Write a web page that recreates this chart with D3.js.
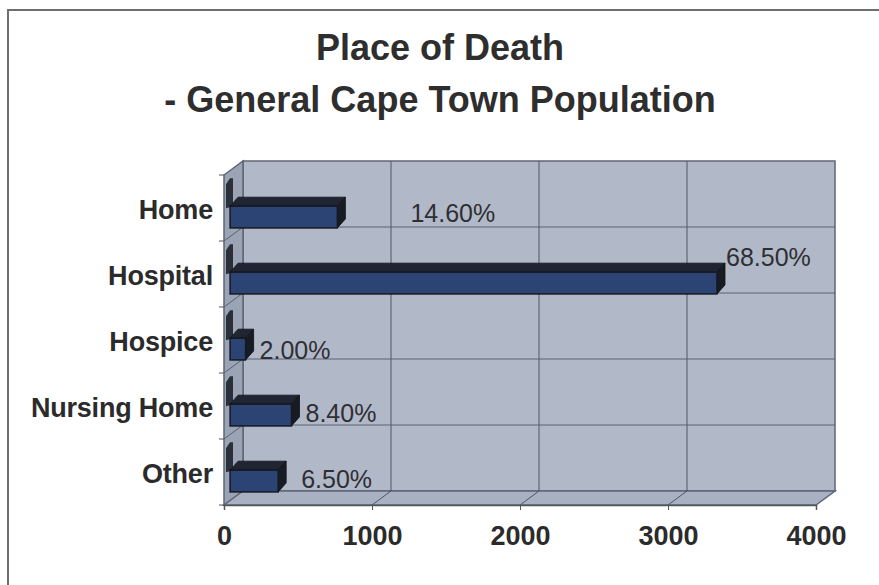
<!DOCTYPE html>
<html>
<head>
<meta charset="utf-8">
<script src="https://cdn.jsdelivr.net/npm/d3@7"></script>
<style>
  body { margin: 0; background: #fff; }
  text { font-family: Arial, "Liberation Sans", sans-serif; }
</style>
</head>
<body>
<div id="chart"></div>
<script>
var categories = ["Home", "Hospital", "Hospice", "Nursing Home", "Other"],
    counts = [725, 3290, 105, 415, 325],
    pctLabels = ["14.60%", "68.50%", "2.00%", "8.40%", "6.50%"],
    xTicks = [0, 1000, 2000, 3000, 4000];

// Excel placed the data labels a bit oddly, nudge them (dx, dy)
var labelNudge = [[65, -6], [1, -28], [6, -1], [6, -4], [15, -4]];

var W = 879, H = 585,
    DX = 19, DY = -14,     // wall depth
    BX = 8, BY = -9,       // bar depth
    F0 = 0.32;             // bar front plane position inside the depth

var svg = d3.select("#chart").append("svg")
  .attr("width", W)
  .attr("height", H);

svg.append("rect")
  .attr("x", 8).attr("y", 10)
  .attr("width", 900).attr("height", 600)
  .attr("fill", "#fff")
  .attr("stroke", "#6e6e6e")
  .attr("stroke-width", 2);

svg.append("text")
  .attr("x", 440).attr("y", 60)
  .attr("text-anchor", "middle")
  .attr("font-size", 36).attr("font-weight", "bold")
  .attr("fill", "#2e2e2e")
  .text("Place of Death");
svg.append("text")
  .attr("x", 440).attr("y", 112)
  .attr("text-anchor", "middle")
  .attr("font-size", 36).attr("font-weight", "bold")
  .attr("fill", "#2e2e2e")
  .text("- General Cape Town Population");

var x = d3.scaleLinear().domain([0, 4000]).range([224, 816]),
    y = d3.scaleBand().domain(categories).range([175, 505]);

var x0 = x(0), x1 = x(4000), yTop = y.range()[0], yBot = y.range()[1];
var line = d3.line();

// walls
var walls = svg.append("g").attr("class", "walls");
walls.append("path")
  .attr("d", line([[x0 + DX, yTop + DY], [x1 + DX, yTop + DY], [x1 + DX, yBot + DY], [x0 + DX, yBot + DY]]) + "Z")
  .attr("fill", "#b1b9c9").attr("stroke", "#5f6676").attr("stroke-width", 1.5);
walls.append("path")
  .attr("d", line([[x0, yTop], [x0 + DX, yTop + DY], [x0 + DX, yBot + DY], [x0, yBot]]) + "Z")
  .attr("fill", "#9ba4b5").attr("stroke", "#5f6676").attr("stroke-width", 1.5);
walls.append("path")
  .attr("d", line([[x0, yBot], [x0 + DX, yBot + DY], [x1 + DX, yBot + DY], [x1, yBot]]) + "Z")
  .attr("fill", "#a8b1c2").attr("stroke", "#5f6676").attr("stroke-width", 1.5);

// grid
var grid = svg.append("g").attr("stroke", "#4f5563").attr("stroke-width", 1).attr("fill", "none");
xTicks.slice(1, -1).forEach(function(t) {
  grid.append("path").attr("d", line([[x(t), yBot], [x(t) + DX, yBot + DY], [x(t) + DX, yTop + DY]]));
});
categories.slice(1).forEach(function(c) {
  var yy = y(c);
  grid.append("path").attr("d", line([[x0, yy], [x0 + DX, yy + DY], [x1 + DX, yy + DY]]))
    .attr("stroke", "#5a6070");
});

// bars
var fx = F0 * DX, fy = F0 * DY, bw = y.bandwidth();
var bars = svg.append("g").selectAll("g.bar")
  .data(categories.map(function(c, i) { return {cat: c, v: counts[i], label: pctLabels[i], nudge: labelNudge[i]}; }))
  .enter().append("g").attr("class", "bar");

bars.each(function(d) {
  var g = d3.select(this),
      left = x0 + fx,
      right = x(d.v) - x0 + left,
      top = y(d.cat) + bw * 0.54 + fy,
      bot = y(d.cat) + bw * 0.87 + fy;
  // stub on the side wall
  g.append("path")
    .attr("d", line([[x0 + 2, top + 2], [x0 + 2, top - 22], [x0 + 6, top - 28], [x0 + 9, top - 28], [x0 + 9, top]]) + "Z")
    .attr("fill", "#2a2f3a");
  // top face
  g.append("path")
    .attr("d", line([[left, top], [left + BX, top + BY], [right + BX, top + BY], [right, top]]) + "Z")
    .attr("fill", "#1f2533").attr("stroke", "#111").attr("stroke-width", 0.8);
  // end face
  g.append("path")
    .attr("d", line([[right, top], [right + BX, top + BY], [right + BX, bot + BY], [right, bot]]) + "Z")
    .attr("fill", "#171b24").attr("stroke", "#111").attr("stroke-width", 0.8);
  // front face
  g.append("rect")
    .attr("x", left).attr("y", top)
    .attr("width", right - left).attr("height", bot - top)
    .attr("fill", "#2c4473").attr("stroke", "#151922").attr("stroke-width", 1.5);

  g.append("text")
    .attr("x", right + BX + d.nudge[0])
    .attr("y", bot + d.nudge[1])
    .attr("font-size", 25)
    .attr("fill", "#2f2f33")
    .text(d.label);
});

// category axis
var cat = svg.append("g");
cat.selectAll("line")
  .data(categories.concat([null]))
  .enter().append("line")
  .attr("x1", x0 - 5).attr("x2", x0)
  .attr("y1", function(d) { return d ? y(d) : yBot; })
  .attr("y2", function(d) { return d ? y(d) : yBot; })
  .attr("stroke", "#555");
cat.selectAll("text")
  .data(categories)
  .enter().append("text")
  .attr("x", 213)
  .attr("y", function(d) { return y(d) + bw / 2 + 11; })
  .attr("text-anchor", "end")
  .attr("font-size", 27).attr("font-weight", "bold")
  .attr("letter-spacing", -0.2)
  .attr("fill", "#2b2b2b")
  .text(function(d) { return d; });

// value axis
var xAxis = svg.append("g").attr("transform", "translate(0," + yBot + ")")
  .call(d3.axisBottom(x).tickValues(xTicks).tickSize(5).tickPadding(16).tickFormat(d3.format("d")));
xAxis.select(".domain").attr("stroke", "#555").attr("stroke-width", 1.5);
xAxis.selectAll(".tick line").attr("stroke", "#555");
xAxis.selectAll(".tick text")
  .attr("font-size", 27).attr("font-weight", "bold")
  .attr("font-family", "Arial, 'Liberation Sans', sans-serif")
  .attr("fill", "#2b2b2b");
</script>
</body>
</html>
